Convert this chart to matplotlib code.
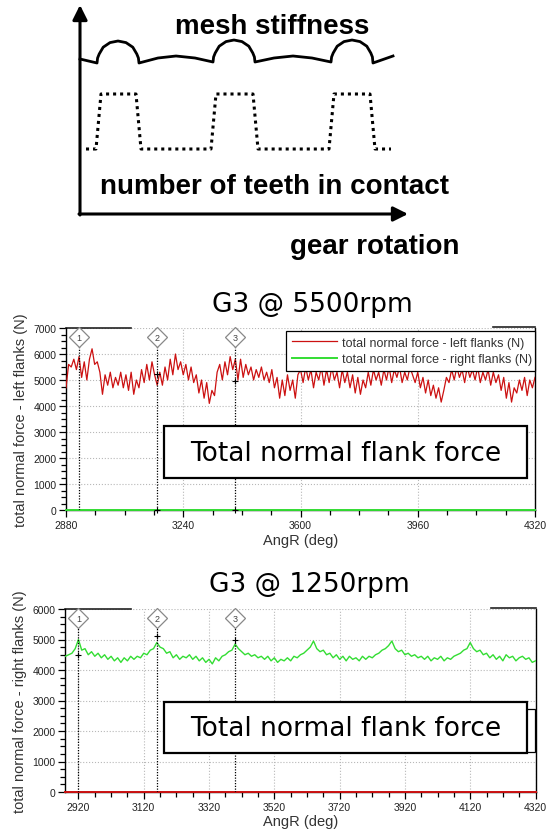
import numpy as np
import matplotlib
matplotlib.use("Agg")
import matplotlib.pyplot as plt
from matplotlib.lines import Line2D
from matplotlib.patches import Rectangle
from matplotlib.ticker import MultipleLocator, FixedLocator

W, H = 548, 837

# ---------------- data ----------------
# schematic (in picture units)
stiff_x = [80, 97, 97.6, 99.2, 103.2, 110, 118, 126, 132.8, 136.8, 138.4, 139,
           158, 176, 195, 213, 213.6, 215.2, 219.2, 226, 234, 242, 248.8, 252.8, 254.4, 255,
           274, 293, 312, 331, 331.6, 333.2, 337.2, 344, 352, 360, 366.8, 370.8, 372.4, 373, 393]
stiff_y = [60, 64, 59, 55, 48.2, 43.6, 42, 43.6, 48.2, 55, 59, 64,
           59, 57, 59, 63, 58, 54, 47.2, 42.6, 41, 42.6, 47.2, 54, 58, 63,
           59, 57, 59, 63, 58, 54, 47.2, 42.6, 41, 42.6, 47.2, 54, 58, 64, 57]
teeth_x = [86, 96, 101, 136, 141, 211, 216, 253, 258, 329, 334, 370, 375, 391]
teeth_y = [150, 150, 95, 95, 150, 150, 95, 95, 150, 150, 95, 95, 150, 150]

# chart 1 : G3 @ 5500rpm  (left flank force, 8 deg step from 2880)
left_5500 = [4700, 5600, 5500, 5800, 5400, 5900,
             5100, 5700, 5000, 5800, 6200,
             5600, 5700, 5300,
             4450,
             5200, 4800, 5300, 4700, 5100, 4800, 5300, 4700, 5200, 4600, 5300,
             4450,
             5000, 4700, 5400, 4900, 5600, 5000, 5700, 5200,
             4800, 5300, 4800,
             5500, 5000, 5800, 5200, 6000,
             5400, 5700, 5200, 5600, 5000, 5500, 4900,
             5200, 4500, 5000, 4300, 4900, 4100, 4600,
             4400,
             5300, 5600, 5000, 5700, 5200, 5900, 5400, 5800,
             5000, 5800, 5100, 5600, 5200, 5500, 5000, 5400, 5100, 5500, 5000, 5300, 4900, 5400,
             4700, 5100, 4300, 5000, 4400, 5200, 4600, 5000, 4300,
             5200, 5400, 4900, 5500, 5000, 5400, 4700, 5300, 5000, 5500,
             4800, 5400, 4900, 5500, 5000, 5300, 4700, 5400, 4900, 5300,
             4700, 5200, 4500, 5100, 4450, 5000, 4700, 5300, 4800, 5400, 5000, 5300, 4800, 5400,
             5000, 5500, 4900, 5400, 5100, 5500, 4900, 5300, 5000, 5500, 5200,
             4900, 5300, 4700, 5100, 4500, 5000, 4400, 4800, 4300, 4700, 4150, 4600,
             5100, 4900, 5400, 5000, 5500, 5100, 5400, 4900, 5500, 5100, 5400, 5000, 5500, 4900, 5300, 5000, 5400,
             4800, 5300, 4900, 5200, 4600, 5100, 4300, 4900, 4150, 4700, 4500, 5000, 4600, 5100, 4400, 5000, 4700, 5100]
ang_5500 = np.arange(2880, 2880 + 8 * len(left_5500), 8)

# chart 2 : G3 @ 1250rpm  (right flank force, 10 deg step from 2880)
right_1250 = [4450, 4500, 4550, 4700, 5000, 4650, 4700, 4500, 4600, 4450,
              4550, 4400, 4500, 4350, 4450, 4300, 4400, 4250, 4400, 4300,
              4450, 4350, 4450, 4400, 4550, 4500, 4650, 4700, 4900, 4750,
              4700, 4550, 4600, 4400, 4500, 4350, 4450, 4400, 4500, 4350,
              4450, 4300, 4400, 4250, 4350, 4200, 4400, 4300, 4450, 4500,
              4600, 4650, 4850, 4700, 4600, 4500, 4550, 4450, 4500, 4400,
              4450, 4350, 4450, 4300, 4400, 4250, 4350, 4300, 4400, 4300,
              4450, 4400, 4500, 4550, 4650, 4750, 4950, 4700, 4600, 4650,
              4500, 4550, 4400, 4500, 4350, 4450, 4300, 4450, 4350, 4400,
              4300, 4450, 4350, 4450, 4400, 4500, 4550, 4650, 4700, 4800,
              4950, 4700, 4600, 4650, 4500, 4550, 4450, 4500, 4400, 4450,
              4350, 4450, 4300, 4400, 4350, 4450, 4300, 4400, 4350, 4450,
              4500, 4550, 4650, 4700, 4900, 4700, 4600, 4650, 4500, 4550,
              4400, 4500, 4350, 4450, 4300, 4500, 4400, 4450, 4300, 4400,
              4450, 4350, 4400, 4250, 4300]
ang_1250 = np.arange(2880, 2880 + 10 * len(right_1250), 10)

markers_ang = [2920, 3160, 3400]
marker_labels = ["1", "2", "3"]
cursor1_y = [None, 5250, 4950]
cursor2_y = [4500, 5100, 5000]

ticks1 = [2880, 3240, 3600, 3960, 4320]
ticks2 = [2920, 3120, 3320, 3520, 3720, 3920, 4120, 4320]

RED = "#cc1111"
GREEN = "#33dd33"

fig = plt.figure(figsize=(W / 100, H / 100), dpi=100)


def fr(x0, y0, x1, y1):
    return [x0 / W, 1 - y1 / H, (x1 - x0) / W, (y1 - y0) / H]


# ---------------- schematic ----------------
sch = fig.add_axes([0, 1 - 270 / H, 1, 270 / H])
sch.set_xlim(0, W)
sch.set_ylim(270, 0)
sch.axis("off")
sch.annotate("", xy=(80, 6), xytext=(80, 216),
             arrowprops=dict(arrowstyle="-|>", lw=2.2, color="black", mutation_scale=22, shrinkA=0, shrinkB=0))
sch.annotate("", xy=(408, 215), xytext=(79, 215),
             arrowprops=dict(arrowstyle="-|>", lw=2.2, color="black", mutation_scale=22, shrinkA=0, shrinkB=0))
sch.plot(stiff_x, stiff_y, color="black", lw=2.0, solid_joinstyle="round")
sch.plot(teeth_x, teeth_y, color="black", lw=2.2, linestyle=(0, (1, 1.3)), dash_capstyle="butt")
bold = dict(family="Liberation Sans", fontweight="bold", fontsize=20, color="black")
sch.text(272, 27, "mesh stiffness", ha="center", va="center", **bold)
sch.text(275, 187, "number of teeth in contact", ha="center", va="center", **bold)
sch.text(375, 247, "gear rotation", ha="center", va="center", **bold)


# ---------------- charts ----------------
def style_chart(ax, ylab, xt, xminor, ymax, top_right_start):
    ax.set_xlim(2880, 4320)
    ax.set_ylim(0, ymax)
    ax.xaxis.set_major_locator(FixedLocator(xt))
    ax.xaxis.set_minor_locator(FixedLocator(xminor))
    ax.yaxis.set_major_locator(MultipleLocator(1000))
    ax.yaxis.set_minor_locator(MultipleLocator(250))
    ax.grid(True, which="major", color="#b8b8b8", linestyle=":", lw=0.8)
    ax.tick_params(which="major", length=5, width=0.9, color="black", labelsize=7.5,
                   labelcolor="#222222", pad=2)
    ax.tick_params(which="minor", length=3.5, width=0.9, color="black")
    for lab in ax.get_xticklabels() + ax.get_yticklabels():
        lab.set_family("Liberation Sans")
    ax.spines["top"].set_visible(False)
    for s in ("left", "bottom", "right"):
        ax.spines[s].set_linewidth(1.0)
        ax.spines[s].set_color("black")
    ax.set_xlabel("AngR (deg)", family="Liberation Sans", fontsize=10.5, color="#333333", labelpad=2)
    ax.set_ylabel(ylab, family="Liberation Sans", fontsize=10.5, color="#333333", labelpad=4)
    ax.add_line(Line2D([0, 0.139], [1, 1], transform=ax.transAxes, color="#222222", lw=1.2, clip_on=False))
    ax.add_line(Line2D([top_right_start, 1], [1.004, 1.004], transform=ax.transAxes, color="#222222", lw=1.2,
                       clip_on=False))


def markers(ax, cursor_y):
    tr = ax.get_xaxis_transform()
    for a, lab, cy in zip(markers_ang, marker_labels, cursor_y):
        ax.plot([a, a], [0, 0.93], transform=tr, color="black", lw=0.9, linestyle=(0, (1, 1.2)), zorder=4)
        ax.plot([a], [0.95], transform=tr, marker="D", markersize=10, markerfacecolor="white",
                markeredgecolor="#888888", markeredgewidth=0.9, zorder=6, clip_on=False)
        ax.text(a, 0.95, lab, transform=tr, ha="center", va="center", fontsize=6.5,
                family="Liberation Sans", color="#444444", zorder=7)
        if cy is not None:
            ax.plot([a], [cy], marker="+", markersize=4, color="black", mew=0.8, zorder=5)


def textbox(ax_fig_box):
    x0, y0, x1, y1 = ax_fig_box
    fig.patches.append(Rectangle((x0 / W, 1 - y1 / H), (x1 - x0) / W, (y1 - y0) / H,
                                 transform=fig.transFigure, facecolor="white", edgecolor="black",
                                 lw=1.6, zorder=10))
    fig.text((x0 + x1) / 2 / W, 1 - ((y0 + y1) / 2 + 1) / H, "Total normal flank force",
             ha="center", va="center", fontsize=19, family="DejaVu Sans", color="black", zorder=11)


# chart 1
ax1 = fig.add_axes(fr(66, 329, 535, 511))
ax1.plot(ang_5500, left_5500, color=RED, lw=0.9, label="total normal force - left flanks (N)", zorder=3)
ax1.plot([2880, 4320], [0, 0], color=GREEN, lw=1.4, label="total normal force - right flanks (N)",
         zorder=3, clip_on=False)
style_chart(ax1, "total normal force - left flanks (N)", ticks1,
            [2880 + 90 * i for i in range(17)], 7000, 0.91)
markers(ax1, cursor1_y)
ax1.plot([3160, 3400], [0, 0], "+", color="black", markersize=4, mew=0.8, zorder=5, clip_on=False)
leg = ax1.legend(loc="upper left", bbox_to_anchor=(286 / W, 1 - 374 / H, 249 / W, 42 / H),
                 bbox_transform=fig.transFigure, mode="expand", borderaxespad=0,
                 prop=dict(family="Liberation Sans", size=9), handlelength=3.6, handletextpad=0.4,
                 labelspacing=0.35, borderpad=0.45, fancybox=False, framealpha=1, edgecolor="black")
leg.get_frame().set_linewidth(0.9)
for t in leg.get_texts():
    t.set_color("#333333")
fig.text(312 / W, 1 - 305 / H, "G3 @ 5500rpm", ha="center", va="center", fontsize=19,
         family="DejaVu Sans", color="black")
textbox((164, 427, 527, 479))

# chart 2
ax2 = fig.add_axes(fr(65.4, 610, 535.5, 793))
ax2.plot(ang_1250, right_1250, color=GREEN, lw=1.0, zorder=3)
ax2.plot([2880, 4320], [0, 0], color=RED, lw=1.4, zorder=3, clip_on=False)
style_chart(ax2, "total normal force - right flanks (N)", ticks2,
            [2920 + 50 * i for i in range(29)], 6000, 0.906)
markers(ax2, cursor2_y)
fig.text(309 / W, 1 - 585 / H, "G3 @ 1250rpm", ha="center", va="center", fontsize=19,
         family="DejaVu Sans", color="black")
fig.patches.append(Rectangle((420 / W, 1 - 753 / H), 115 / W, 43 / H, transform=fig.transFigure,
                             facecolor="white", edgecolor="black", lw=0.9, zorder=9))
textbox((164, 703, 527, 754))

fig.savefig("out.png", dpi=100)
